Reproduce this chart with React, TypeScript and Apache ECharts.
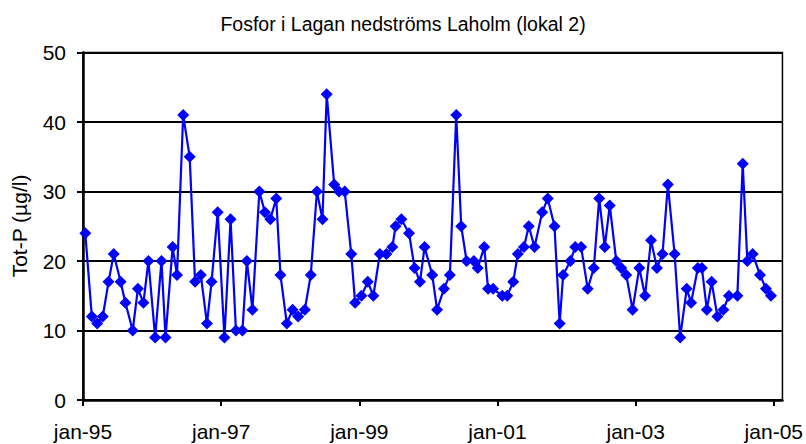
import React, { useEffect, useRef } from "react";
import * as echarts from "echarts";

const title = "Fosfor i Lagan nedströms Laholm (lokal 2)";
const yAxisTitle = "Tot-P (µg/l)";

const sampleDates = [
  "1995-01-13", "1995-02-17", "1995-03-15", "1995-04-14", "1995-05-14", "1995-06-11",
  "1995-07-17", "1995-08-12", "1995-09-20", "1995-10-17", "1995-11-16", "1995-12-12",
  "1996-01-17", "1996-02-20", "1996-03-11", "1996-04-18", "1996-05-11", "1996-06-13",
  "1996-07-17", "1996-08-15", "1996-09-15", "1996-10-17", "1996-11-11", "1996-12-13",
  "1997-01-18", "1997-02-20", "1997-03-18", "1997-04-22", "1997-05-15", "1997-06-14",
  "1997-07-20", "1997-08-19", "1997-09-17", "1997-10-18", "1997-11-10", "1997-12-13",
  "1998-01-13", "1998-02-12", "1998-03-17", "1998-04-18", "1998-05-20", "1998-06-19",
  "1998-07-11", "1998-08-20", "1998-09-15", "1998-10-15", "1998-11-19", "1998-12-09",
  "1999-01-12", "1999-02-15", "1999-03-14", "1999-04-18", "1999-05-22", "1999-06-23",
  "1999-07-10", "1999-08-10", "1999-09-20", "1999-10-19", "1999-11-17", "1999-12-11",
  "2000-01-21", "2000-02-16", "2000-03-22", "2000-04-23", "2000-05-26", "2000-06-22",
  "2000-07-20", "2000-08-28", "2000-09-18", "2000-10-22", "2000-11-12", "2000-12-08",
  "2001-01-26", "2001-02-22", "2001-03-23", "2001-04-17", "2001-05-19", "2001-06-14",
  "2001-07-14", "2001-08-24", "2001-09-23", "2001-10-28", "2001-11-25", "2001-12-13",
  "2002-01-21", "2002-02-16", "2002-03-17", "2002-04-21", "2002-05-23", "2002-06-21",
  "2002-07-20", "2002-08-16", "2002-09-20", "2002-10-16", "2002-11-12", "2002-12-15",
  "2003-01-20", "2003-02-20", "2003-03-21", "2003-04-22", "2003-05-21", "2003-06-19",
  "2003-07-24", "2003-08-23", "2003-09-27", "2003-10-20", "2003-11-25", "2003-12-16",
  "2004-01-12", "2004-02-07", "2004-03-07", "2004-04-08", "2004-05-07", "2004-06-21",
  "2004-07-19", "2004-08-13", "2004-09-11", "2004-10-19", "2004-11-20", "2004-12-16",
];

// Tot-P values (µg/l)
const totP = [
  24, 12, 11, 12, 17, 21, 17, 14, 10, 16, 14, 20,
  9, 20, 9, 22, 18, 41, 35, 17, 18, 11, 17, 27,
  9, 26, 10, 10, 20, 13, 30, 27, 26, 29, 18, 11,
  13, 12, 13, 18, 30, 26, 44, 31, 30, 30, 21, 14,
  15, 17, 15, 21, 21, 22, 25, 26, 24, 19, 17, 22,
  18, 13, 16, 18, 41, 25, 20, 20, 19, 22, 16, 16,
  15, 15, 17, 21, 22, 25, 22, 27, 29, 25, 11, 18,
  20, 22, 22, 16, 19, 29, 22, 28, 20, 19, 18, 13,
  19, 15, 23, 19, 21, 31, 21, 9, 16, 14, 19, 19,
  13, 17, 12, 13, 15, 15, 34, 20, 21, 18, 16, 15,
];

// x-axis tick labels (every second January)
const xTickMonths = [0, 24, 48, 72, 96, 120];
const xTickLabels = ["jan-95", "jan-97", "jan-99", "jan-01", "jan-03", "jan-05"];
const yTicks = [0, 10, 20, 30, 40, 50];

const FONT = "'Liberation Sans', Arial, sans-serif";

function monthsSinceStart(s: string): number {
  const [y, m, d] = s.split("-").map(Number);
  return (y - 1995) * 12 + (m - 1) + (d - 1) / 30;
}

export default function App() {
  const ref = useRef<HTMLDivElement>(null);

  useEffect(() => {
    document.body.style.margin = "0";
    if (!ref.current) return;
    const chart = echarts.init(ref.current, undefined, { renderer: "svg" });
    const data = sampleDates.map((d, i) => [monthsSinceStart(d), totP[i]]);
    chart.setOption({
      animation: false,
      backgroundColor: "#ffffff",
      title: {
        text: title,
        left: "center",
        top: 9,
        textStyle: { fontFamily: FONT, fontSize: 19.5, fontWeight: "normal", color: "#000" },
      },
      graphic: [
        {
          type: "text",
          x: 19,
          y: 226,
          rotation: Math.PI / 2,
          style: {
            text: yAxisTitle,
            fontFamily: FONT,
            fontSize: 21,
            fill: "#000",
            align: "center",
            verticalAlign: "middle",
          },
        },
      ],
      grid: {
        left: 83,
        right: 22,
        top: 52.5,
        bottom: 44,
        show: true,
        borderColor: "#000",
        borderWidth: 1.5,
        backgroundColor: "transparent",
      },
      xAxis: {
        type: "value",
        min: 0,
        max: 121.5,
        interval: 24,
        axisLine: { show: true, onZero: false, lineStyle: { color: "#000", width: 2.5 } },
        axisTick: { show: true, length: 6, customValues: xTickMonths, lineStyle: { color: "#000", width: 2 } },
        axisLabel: {
          customValues: xTickMonths,
          margin: 21,
          fontFamily: FONT,
          fontSize: 21,
          color: "#000",
          formatter: (v: number) => {
            const idx = xTickMonths.indexOf(Math.round(v));
            return idx >= 0 ? xTickLabels[idx] : "";
          },
        },
        splitLine: { show: false },
      },
      yAxis: {
        type: "value",
        min: 0,
        max: 50,
        interval: 10,
        axisLine: { show: true, lineStyle: { color: "#000", width: 2.5 } },
        axisTick: { show: true, length: 6, lineStyle: { color: "#000", width: 2 } },
        axisLabel: {
          margin: 17,
          fontFamily: FONT,
          fontSize: 21,
          color: "#000",
          formatter: (v: number) => (yTicks.includes(v) ? String(v) : ""),
        },
        splitLine: { show: true, lineStyle: { color: "#000", width: 1.8 } },
      },
      series: [
        {
          type: "line",
          data,
          symbol: "diamond",
          symbolSize: 12,
          itemStyle: { color: "#0000ff" },
          lineStyle: { color: "#0000ff", width: 2.2 },
        },
      ],
    });
    return () => chart.dispose();
  }, []);

  return <div ref={ref} style={{ width: 806, height: 444 }} />;
}
